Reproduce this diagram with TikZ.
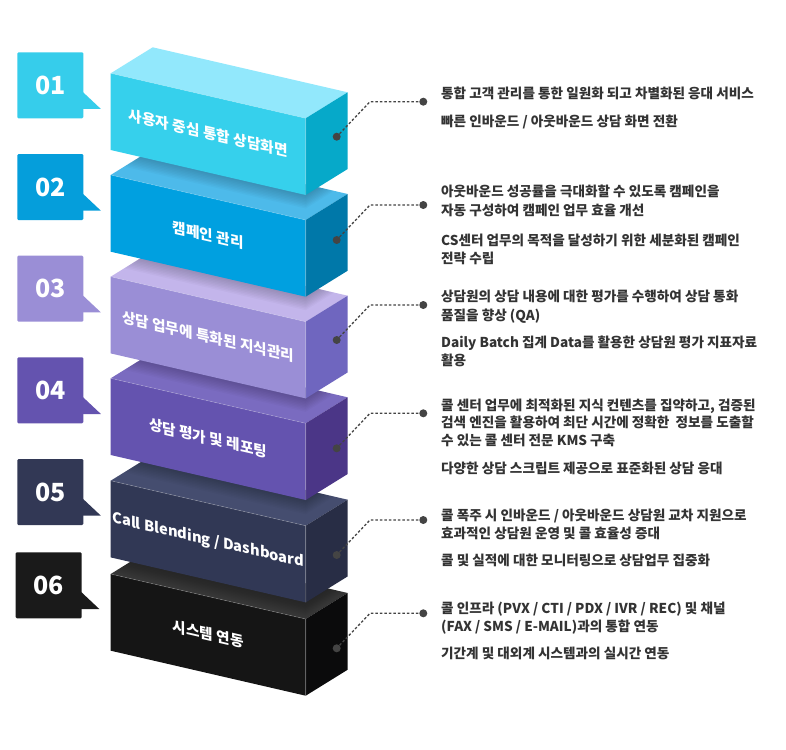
\documentclass[tikz,border=0pt]{standalone}
\usepackage{fontspec}
\setmainfont{Noto Sans CJK KR}
\definecolor{topA}{HTML}{92E8FC}\definecolor{frontA}{HTML}{36D0EC}\definecolor{sideA}{HTML}{06A9C9}\definecolor{callA}{HTML}{36CDEB}
\definecolor{topB}{HTML}{4DBAEA}\definecolor{frontB}{HTML}{00A0E0}\definecolor{sideB}{HTML}{0078A9}\definecolor{callB}{HTML}{059EDB}
\definecolor{topC}{HTML}{C3B5EB}\definecolor{frontC}{HTML}{9A8ED6}\definecolor{sideC}{HTML}{6F66BF}\definecolor{callC}{HTML}{9A8ED6}
\definecolor{topD}{HTML}{7A6BC0}\definecolor{frontD}{HTML}{6453AF}\definecolor{sideD}{HTML}{4B3687}\definecolor{callD}{HTML}{6453AF}
\definecolor{topE}{HTML}{454D6F}\definecolor{frontE}{HTML}{313855}\definecolor{sideE}{HTML}{282D45}\definecolor{callE}{HTML}{323855}
\definecolor{topF}{HTML}{363636}\definecolor{frontF}{HTML}{151515}\definecolor{sideF}{HTML}{0B0B0C}\definecolor{callF}{HTML}{1A1A1A}
\definecolor{desc}{HTML}{333333}
\definecolor{dotc}{HTML}{444444}
\tikzset{
 desc/.style={anchor=west, inner sep=0pt, font=\bfseries\fontsize{13.6}{16}\selectfont, text=desc, text height=11.8pt, text depth=1.6pt},
 lbl/.style={text=white, font=\bfseries\fontsize{14.7}{17}\selectfont, yslant=-0.2308, inner sep=0pt},
 num/.style={minimum width=66pt, minimum height=66pt, inner sep=0pt, rounded corners=1.2pt, text=white, font=\bfseries\fontsize{25}{25}\selectfont},
 dot/.style={circle, fill=dotc, minimum size=8pt, inner sep=0pt},
 conn/.style={dotc, line width=1.3pt, dash pattern=on 2.5pt off 2pt},
}
\newcommand\cubeblock[7]{%
\begin{scope}[shift={(0,#2)}]
 \fill[#4] (110.7,0) -- (152.7,-26) -- (347.7,19) -- (305.7,45) -- cycle;
 \begin{scope}
  \clip (110.7,0) -- (152.7,-26) -- (347.7,19) -- (305.7,45) -- cycle;
  \foreach \d in {0,1.5,...,13.5}{
   \fill[black, opacity=0.025] (90,-200) -- (90,76.7-#3+\d) -- (110.7,76.7-#3+\d) -- (305.7,121.7-#3+\d) -- (347.7,95.7-#3+\d) -- (370,95.7-#3+\d) -- (370,-200) -- cycle;
  }
 \end{scope}
 \fill[#5] (110.7,0) -- (305.7,45) -- (305.7,121.7) -- (110.7,76.7) -- cycle;
 \fill[#6] (305.7,45) -- (347.7,19) -- (347.7,95.7) -- (305.7,121.7) -- cycle;
 \draw[white, opacity=0.25, line width=0.6pt] (110.7,0) -- (305.7,45) -- (305.7,121.7);
 \node[lbl] (#1) at (208.2,59.8) {#7};
\end{scope}}
\newcommand\callout[4]{% name, x, y-top, color
 \node[num, fill=#4] (#1) at (#2+33,#3+33) {};
 \fill[#4] ([xshift=-1pt,yshift=-6.4pt]#1.east) -- ([xshift=17.4pt,yshift=-23.7pt]#1.east) -- ([xshift=-1pt,yshift=-23.7pt]#1.east) -- cycle;
}
\begin{document}
\begin{tikzpicture}[x=1pt,y=-1pt]
\useasboundingbox (0,0) rectangle (786,749);
\fill[white] (0,0) rectangle (786,749);
% cubes, bottom first
\cubeblock{b6}{574}{93.3}{topF}{frontF}{sideF}{시스템 연동}
\cubeblock{b5}{480.7}{101.7}{topE}{frontE}{sideE}{Call Blending / Dashboard}
\cubeblock{b4}{378.3}{101.7}{topD}{frontD}{sideD}{상담 평가 및 레포팅}
\cubeblock{b3}{276.7}{101.7}{topC}{frontC}{sideC}{상담 업무에 특화된 지식관리}
\cubeblock{b2}{175}{101.7}{topB}{frontB}{sideB}{캠페인 관리}
\cubeblock{b1}{73.3}{400}{topA}{frontA}{sideA}{사용자 중심 통합 상담화면}
% callouts
\callout{n1}{17.3}{52.3}{callA}
\callout{n2}{17.3}{154}{callB}
\callout{n3}{17.3}{255.7}{callC}
\callout{n4}{17.3}{357.3}{callD}
\callout{n5}{17.3}{459}{callE}
\callout{n6}{15.7}{552.3}{callF}
\foreach \n/\t in {n1/01,n2/02,n3/03,n4/04,n5/05,n6/06}{
 \node[text=white, font=\bfseries\fontsize{25}{25}\selectfont, inner sep=0pt] (t\n) at (\n.center) {\t};
}
% connectors
\foreach \i/\y in {1/101.7,2/205,3/305,4/413.3,5/520,6/613.3}{
 \node[dot] (a\i) at (336.7,\y+35) {};
 \coordinate (k\i) at (370,\y);
 \node[dot] (e\i) at (423.3,\y) {};
 \draw[conn] (a\i) -- (k\i) -- (e\i);
}
% descriptions
\node[desc] (d11) at (441,93) {통합 고객 관리를 통한 일원화 되고 차별화된 응대 서비스};
\node[desc] (d12) at (441,121.7) {빠른 인바운드 / 아웃바운드 상담 화면 전환};
\node[desc] (d21) at (441,191.7) {아웃바운드 성공률을 극대화할 수 있도록 캠페인을};
\node[desc] (d22) at (441,210) {자동 구성하여 캠페인 업무 효율 개선};
\node[desc] (d23) at (441,240) {CS센터 업무의 목적을 달성하기 위한 세분화된 캠페인};
\node[desc] (d24) at (441,258.3) {전략 수립};
\node[desc] (d31) at (441,296.7) {상담원의 상담 내용에 대한 평가를 수행하여 상담 통화};
\node[desc] (d32) at (441,315) {품질을 향상 (QA)};
\node[desc] (d33) at (441,342.7) {Daily Batch 집계 Data를 활용한 상담원 평가 지표자료};
\node[desc] (d34) at (441,360) {활용};
\node[desc] (d41) at (441,405) {콜 센터 업무에 최적화된 지식 컨텐츠를 집약하고, 검증된};
\node[desc] (d42) at (441,422.3) {검색 엔진을 활용하여 최단 시간에 정확한\ \ 정보를 도출할};
\node[desc] (d43) at (441,440) {수 있는 콜 센터 전문 KMS 구축};
\node[desc] (d44) at (441,468.3) {다양한 상담 스크립트 제공으로 표준화된 상담 응대};
\node[desc] (d51) at (441,515) {콜 폭주 시 인바운드 / 아웃바운드 상담원 교차 지원으로};
\node[desc] (d52) at (441,533.3) {효과적인 상담원 운영 및 콜 효율성 증대};
\node[desc] (d53) at (441,560.7) {콜 및 실적에 대한 모니터링으로 상담업무 집중화};
\node[desc] (d61) at (441,608.3) {콜 인프라 (PVX / CTI / PDX / IVR / REC) 및 채널};
\node[desc] (d62) at (441,626) {(FAX / SMS / E-MAIL)과의 통합 연동};
\node[desc] (d63) at (441,653.3) {기간계 및 대외계 시스템과의 실시간 연동};
\end{tikzpicture}
\end{document}
